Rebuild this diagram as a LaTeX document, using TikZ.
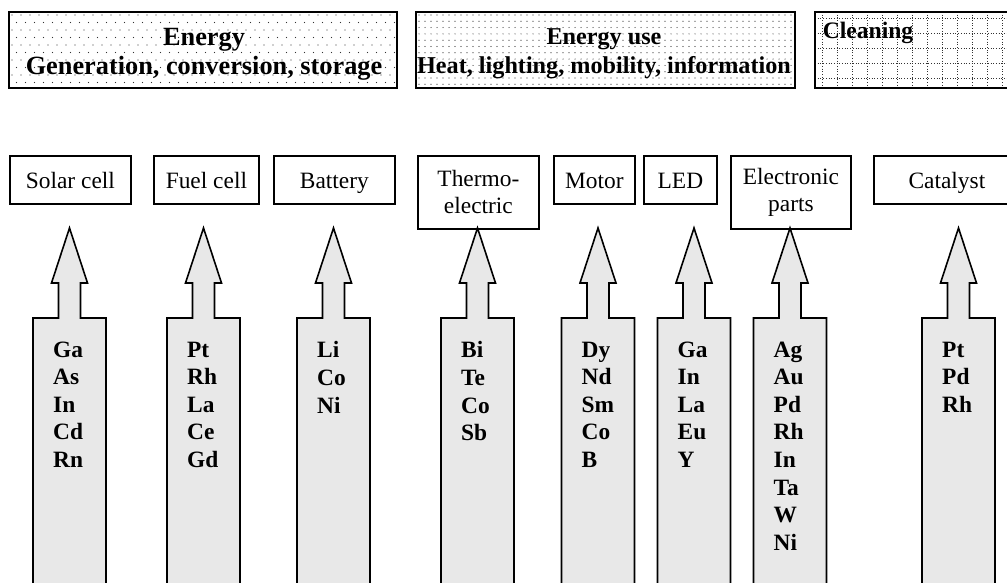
\documentclass[tikz,border=0pt]{standalone}
\usepackage{fontspec}
\setmainfont{Liberation Serif}

\begin{document}
\begin{tikzpicture}[x=1pt, y=-1pt,
    headbox/.style={draw=black, line width=2pt},
    headtext/.style={font=\fontsize{25pt}{29pt}\selectfont\bfseries, align=center, inner sep=0pt},
    appbox/.style={draw, line width=1.8pt, anchor=north west, minimum height=48pt,
        font=\fontsize{23.4pt}{27pt}\selectfont, align=center, inner sep=0pt,
        text height=22pt, text depth=4pt},
    tallbox/.style={draw, line width=1.8pt, anchor=north west, minimum height=73pt,
        font=\fontsize{23.4pt}{27pt}\selectfont, align=center, inner sep=0pt},
    arrowshape/.style={fill=arrowFill, draw=black, line width=1.6pt},
    gridline/.style={dotted, line width=0.7pt, draw=dotColour},
    elemtext/.style={font=\fontsize{23.4pt}{27.6pt}\selectfont\bfseries, align=left,
        anchor=north west, inner sep=0pt}]

    \definecolor{arrowFill}{HTML}{E8E8E8}
    \definecolor{dotColour}{HTML}{333333}

    \useasboundingbox (0,0) rectangle (1007,583);
    \clip (0,0) rectangle (1007,583);

    % Dotted fill of the energy box
    \begin{scope}
        \clip (9,12) rectangle (397,88);
        \foreach \r in {0,...,10}
            \foreach \c in {0,...,43}
                \fill[dotColour] ({12+\c*9+4.5*mod(\r,2)}, {15+\r*7.5}) circle (0.7);
    \end{scope}

    % Denser dots for the energy use box
    \begin{scope}
        \clip (416,12) rectangle (795,88);
        \foreach \r in {0,...,12}
            \foreach \c in {0,...,63}
                \fill[dotColour] ({419+\c*6}, {15+\r*6.3}) circle (0.6);
    \end{scope}

    % Dotted grid for the cleaning box
    \foreach \x in {0,...,13}
        \draw[gridline] (822+\x*15,12) -- (822+\x*15,88);
    \foreach \y in {0,...,4}
        \draw[gridline] (815,18+\y*15) -- (1012,18+\y*15);

    % Top boxes
    \draw[headbox] (9,12) rectangle (397,88);
    \draw[headbox] (416,12) rectangle (795,88);
    \draw[headbox] (815,12) rectangle (1012,88);

    \node[headtext, font=\fontsize{26.3pt}{29pt}\selectfont\bfseries] (energy) at (204,54)
        {Energy\\Generation, conversion, storage};
    \node[headtext, font=\fontsize{24.2pt}{29pt}\selectfont\bfseries] (energyUse) at (604,54)
        {Energy use\\Heat, lighting, mobility, information};
    \node[headtext, font=\fontsize{23.6pt}{29pt}\selectfont\bfseries] (cleaning) at (868,33) {Cleaning};

    % Application boxes
    \node[appbox, minimum width=121pt] (solar) at (9,155) {Solar cell};
    \node[appbox, minimum width=105pt] (fuel) at (153,155) {Fuel cell};
    \node[appbox, minimum width=121pt] (battery) at (273,155) {Battery};
    \node[tallbox, minimum width=121pt] (thermo) at (417,155) {Thermo-\\electric};
    \node[appbox, minimum width=81pt] (motor) at (553,155) {Motor};
    \node[appbox, minimum width=73pt] (led) at (643,155) {LED};
    \node[tallbox, minimum width=120pt] (electronic) at (730,155) {Electronic\\parts};
    \node[appbox, minimum width=146pt] (catalyst) at (873,155) {Catalyst};

    % Arrows with the elements
    \foreach \cx/\elems [count=\i] in {69.5/{Ga\\As\\In\\Cd\\Rn}, 203.5/{Pt\\Rh\\La\\Ce\\Gd},
            333.5/{Li\\Co\\Ni}, 477.5/{Bi\\Te\\Co\\Sb}, 598/{Dy\\Nd\\Sm\\Co\\B},
            694/{Ga\\In\\La\\Eu\\Y}, 790/{Ag\\Au\\Pd\\Rh\\In\\Ta\\W\\Ni}, 958.5/{Pt\\Pd\\Rh}}
    {
        \filldraw[arrowshape] (\cx-36.5,590) -- (\cx-36.5,318) -- (\cx-11,318) -- (\cx-11,283)
            -- (\cx-18,283) -- (\cx,228) -- (\cx+18,283) -- (\cx+11,283) -- (\cx+11,318)
            -- (\cx+36.5,318) -- (\cx+36.5,590);
        \node[elemtext] (elem\i) at (\cx-16.5,341.5) {\elems};
    }

\end{tikzpicture}
\end{document}
